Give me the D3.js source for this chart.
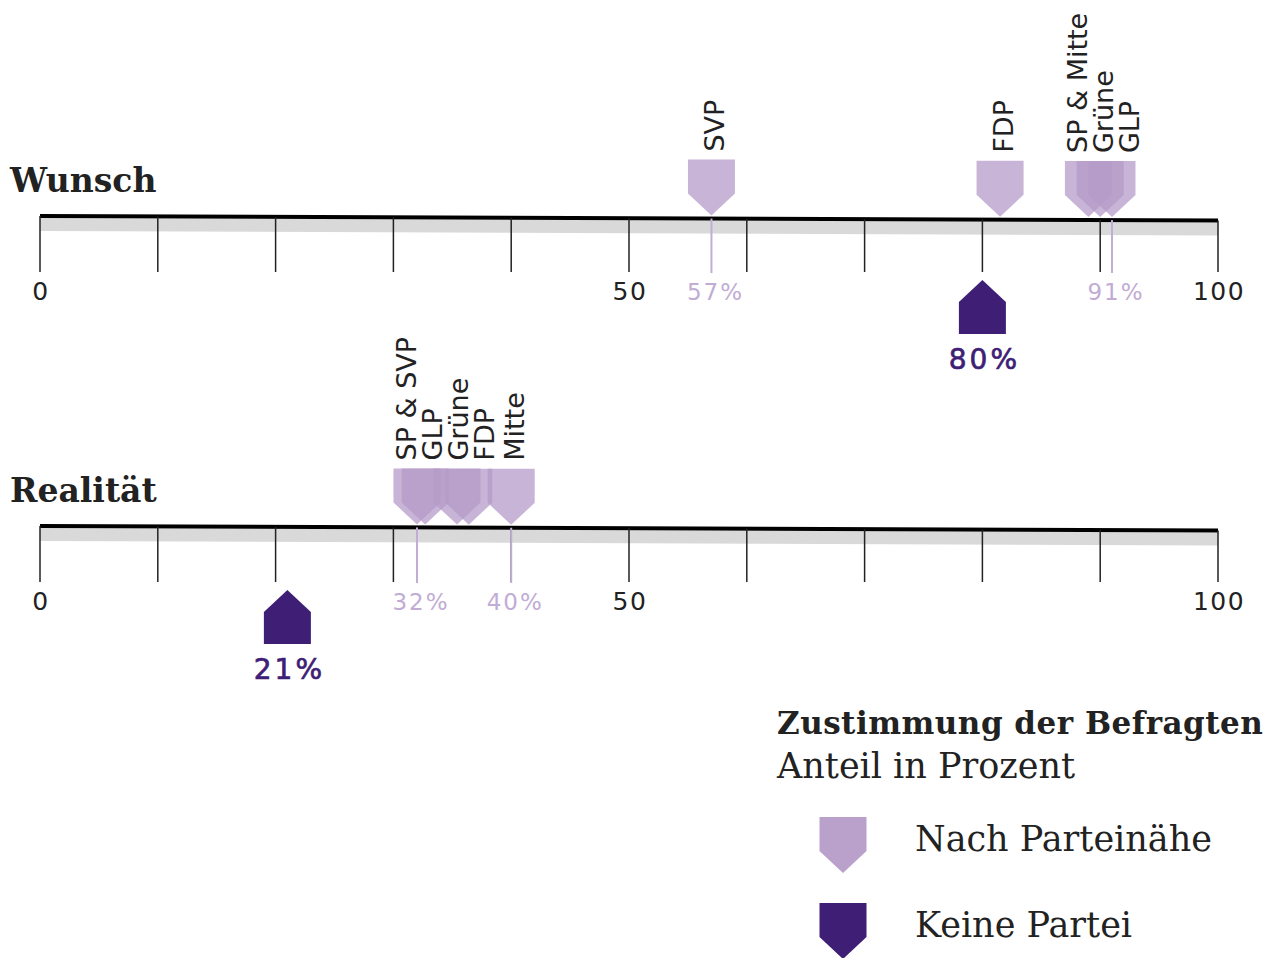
<!DOCTYPE html>
<html>
<head>
<meta charset="utf-8">
<script src="https://cdn.jsdelivr.net/npm/d3@7"></script>
<style>
  body { margin: 0; background: #fff; }
  svg { display: block; }
</style>
</head>
<body>
<div class="container"></div>
<script>
// Zustimmung der Befragten – Wunsch vs. Realität

var rows = ["Wunsch", "Realität"];

var wunschParties = ["SVP", "FDP", "SP & Mitte", "Grüne", "GLP"];
var wunschValues = [57, 81.5, 89, 90, 91];

var realitaetParties = ["SP & SVP", "GLP", "Grüne", "FDP", "Mitte"];
var realitaetValues = [32, 32.7, 35.4, 36.4, 40];

var keineParteiValues = [80, 21];

var tickValues = [0, 10, 20, 30, 40, 50, 60, 70, 80, 90, 100];
var tickLabels = [0, 50, 100];

var legendTitle = "Zustimmung der Befragten";
var legendSubtitle = "Anteil in Prozent";
var legendLabels = ["Nach Parteinähe", "Keine Partei"];

var width = 1267;
var height = 958;
var rowY = [216, 526];
var light = "#b49bc8";
var lightText = "#c1acd5";
var dark = "#3f1f76";
var ink = "#222";
var sans = "'DejaVu Sans', sans-serif";
var serif = "'DejaVu Serif', serif";

var x = d3.scaleLinear().domain([0, 100]).range([40, 1218]);
// the baseline drops slightly from left to right
var tilt = d3.scaleLinear().domain([0, 100]).range([0, 4.5]);

var svg = d3.select(".container")
    .append("svg")
    .attr("width", width)
    .attr("height", height);

function downMarker(cx, ty)
{
    return "M" + (cx - 23.5) + "," + (ty - 56) +
        "L" + (cx + 23.5) + "," + (ty - 56) +
        "L" + (cx + 23.5) + "," + (ty - 22) +
        "L" + cx + "," + ty +
        "L" + (cx - 23.5) + "," + (ty - 22) + "Z";
}

function upMarker(cx, ty)
{
    return "M" + cx + "," + ty +
        "L" + (cx + 23.5) + "," + (ty + 22) +
        "L" + (cx + 23.5) + "," + (ty + 54) +
        "L" + (cx - 23.5) + "," + (ty + 54) +
        "L" + (cx - 23.5) + "," + (ty + 22) + "Z";
}

// spread labels that would overlap, clusters centred on their mean
function dodge(xs, gap)
{
    var order = d3.range(xs.length).sort(function(a, b) { return xs[a] - xs[b]; });
    var clusters = [];
    order.forEach(function(i)
    {
        clusters.push({members: [i], center: xs[i]});
        while (clusters.length > 1)
        {
            var b = clusters[clusters.length - 1];
            var a = clusters[clusters.length - 2];
            var aRight = a.center + (a.members.length - 1) * gap / 2;
            var bLeft = b.center - (b.members.length - 1) * gap / 2;
            if (bLeft - aRight >= gap) break;
            var m = a.members.concat(b.members);
            clusters.splice(-2, 2, {members: m, center: d3.mean(m, function(j) { return xs[j]; })});
        }
    });
    var out = [];
    clusters.forEach(function(c)
    {
        c.members.forEach(function(j, k)
        {
            out[j] = c.center + (k - (c.members.length - 1) / 2) * gap;
        });
    });
    return out;
}

var rowData = [
    {title: rows[0], parties: wunschParties, values: wunschValues, keine: keineParteiValues[0], y: rowY[0]},
    {title: rows[1], parties: realitaetParties, values: realitaetValues, keine: keineParteiValues[1], y: rowY[1]}
];

rowData.forEach(function(r)
{
    var g = svg.append("g");
    var y0 = r.y;

    g.append("text")
        .attr("x", 10)
        .attr("y", y0 - 24)
        .style("font-family", serif)
        .style("font-weight", "bold")
        .style("font-size", "33px")
        .style("fill", ink)
        .text(r.title);

    // grey band + black line
    g.append("path")
        .attr("d", "M" + x(0) + "," + (y0 + 2) + "L" + x(100) + "," + (y0 + 2 + tilt(100)) +
            "L" + x(100) + "," + (y0 + 15 + tilt(100)) + "L" + x(0) + "," + (y0 + 15) + "Z")
        .style("fill", "#d9d9d9");

    g.append("line")
        .attr("x1", x(0)).attr("y1", y0)
        .attr("x2", x(100)).attr("y2", y0 + tilt(100))
        .style("stroke", "#000")
        .style("stroke-width", 4);

    g.selectAll(".tick")
        .data(tickValues)
        .enter().append("line")
        .attr("class", "tick")
        .attr("x1", function(d) { return x(d); })
        .attr("x2", function(d) { return x(d); })
        .attr("y1", function(d) { return y0 + tilt(d); })
        .attr("y2", y0 + 56)
        .style("stroke", ink)
        .style("stroke-width", 1.5);

    g.selectAll(".tickLabel")
        .data(tickLabels)
        .enter().append("text")
        .attr("x", function(d) { return x(d) + 1; })
        .attr("y", y0 + 84)
        .attr("text-anchor", "middle")
        .style("font-family", sans)
        .style("font-size", "25px")
        .style("letter-spacing", "1.5px")
        .style("fill", ink)
        .text(function(d) { return d; });

    // min / max markers get a line and a percent label
    var ext = d3.extent(r.values);
    var lo = r.values.indexOf(ext[0]);
    var hi = r.values.indexOf(ext[1]);
    [lo, hi].forEach(function(i)
    {
        var v = r.values[i];
        g.append("line")
            .attr("x1", x(v)).attr("x2", x(v))
            .attr("y1", y0 + tilt(v))
            .attr("y2", y0 + 57)
            .style("stroke", lightText)
            .style("stroke-width", 2);
        g.append("text")
            .attr("x", x(v) + 4)
            .attr("y", y0 + 84)
            .attr("text-anchor", "middle")
            .style("font-family", sans)
            .style("font-size", "23px")
            .style("letter-spacing", "2px")
            .style("fill", lightText)
            .text(Math.round(v) + "%");
    });

    g.selectAll(".party")
        .data(r.values)
        .enter().append("path")
        .attr("class", "party")
        .attr("d", function(d) { return downMarker(x(d), y0 + tilt(d) - 3); })
        .style("fill", light)
        .style("fill-opacity", 0.75);

    var labelX = dodge(r.values.map(function(d) { return x(d); }), 26);
    g.selectAll(".partyLabel")
        .data(r.parties)
        .enter().append("text")
        .attr("class", "partyLabel")
        .attr("transform", function(d, i)
        {
            var v = r.values[i];
            return "translate(" + (labelX[i] + 3) + "," + (y0 + tilt(v) - 3 - 56 - 8) + ") rotate(-90)";
        })
        .attr("dy", "0.36em")
        .style("font-family", sans)
        .style("font-size", "27px")
        .style("fill", ink)
        .text(function(d) { return d; });

    // Keine Partei
    g.append("path")
        .attr("d", upMarker(x(r.keine), y0 + 64))
        .style("fill", dark);

    g.append("text")
        .attr("x", x(r.keine) + 2)
        .attr("y", y0 + 153)
        .attr("text-anchor", "middle")
        .style("font-family", sans)
        .style("font-size", "28px")
        .style("letter-spacing", "3px")
        .style("fill", dark)
        .style("stroke", dark)
        .style("stroke-width", 0.7)
        .text(r.keine + "%");
});

// legend
var legend = svg.append("g");

legend.append("text")
    .attr("x", 777)
    .attr("y", 734)
    .style("font-family", serif)
    .style("font-weight", "bold")
    .style("font-size", "31px")
    .style("letter-spacing", "0.5px")
    .style("fill", ink)
    .text(legendTitle);

legend.append("text")
    .attr("x", 777)
    .attr("y", 778)
    .style("font-family", serif)
    .style("font-size", "35px")
    .style("fill", ink)
    .text(legendSubtitle);

var legendColors = ["#b9a1cb", dark];
legendLabels.forEach(function(label, i)
{
    var ly = 873 + i * 86;
    legend.append("path")
        .attr("d", downMarker(843, ly))
        .style("fill", legendColors[i]);
    legend.append("text")
        .attr("x", 915)
        .attr("y", 851 + i * 86)
        .style("font-family", serif)
        .style("font-size", "35px")
        .style("fill", ink)
        .text(label);
});
</script>
</body>
</html>
